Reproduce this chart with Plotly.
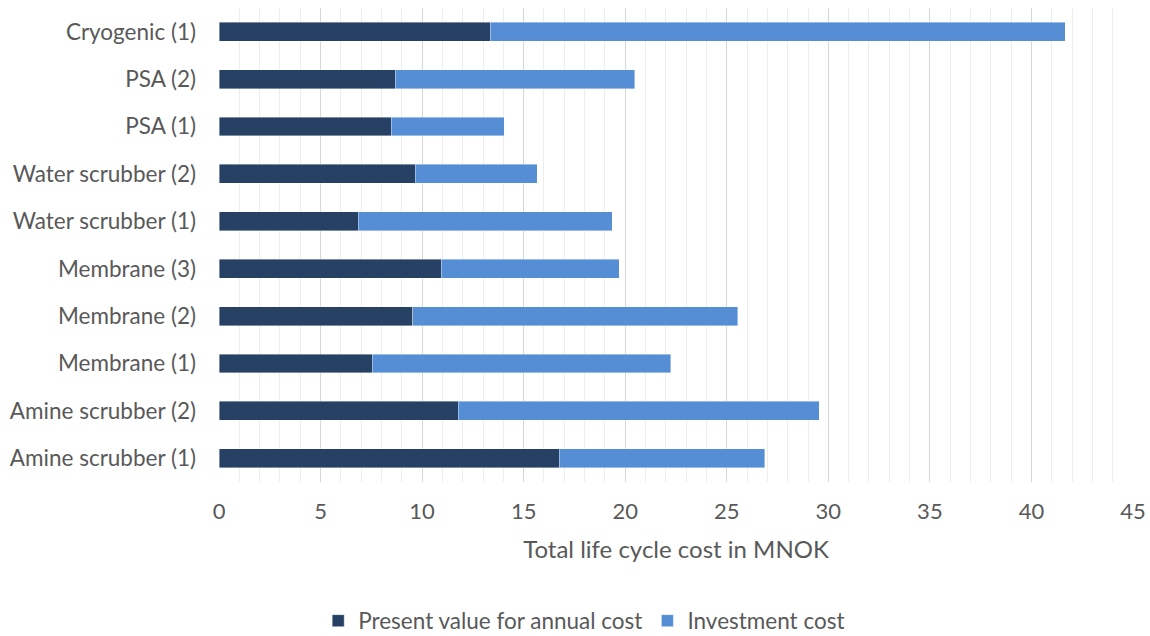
import plotly.graph_objects as go

# Upgrading technologies, bottom to top on the chart
technologies = [
    "Amine scrubber (1)",
    "Amine scrubber (2)",
    "Membrane (1)",
    "Membrane (2)",
    "Membrane (3)",
    "Water scrubber (1)",
    "Water scrubber (2)",
    "PSA (1)",
    "PSA (2)",
    "Cryogenic (1)",
]

# Cost components in MNOK
annual_cost_pv = [16.75, 11.77, 7.54, 9.54, 10.94, 6.85, 9.67, 8.47, 8.67, 13.35]
investment_cost = [10.11, 17.79, 14.71, 16.01, 8.76, 12.51, 6.00, 5.57, 11.79, 28.32]

x_ticks = [0, 5, 10, 15, 20, 25, 30, 35, 40, 45]

FONT = "Lato, Calibri, 'Open Sans', sans-serif"
TEXT = "#595959"

fig = go.Figure()
fig.add_trace(go.Bar(
    y=technologies, x=annual_cost_pv, orientation="h",
    name="Present value for annual cost",
    marker=dict(color="#264163", line=dict(color="rgba(255,255,255,0.5)", width=0.8)),
))
fig.add_trace(go.Bar(
    y=technologies, x=investment_cost, orientation="h",
    name="Investment cost",
    marker=dict(color="#558ED5", line=dict(color="rgba(255,255,255,0.5)", width=0.8)),
))

fig.update_layout(
    barmode="stack",
    bargap=0.6,
    width=1150, height=636,
    margin=dict(l=219, r=17, t=8, b=154, autoexpand=False),
    paper_bgcolor="white",
    plot_bgcolor="white",
    font=dict(family=FONT, size=22, color=TEXT),
    legend=dict(
        orientation="h",
        xref="container", yref="container",
        x=0.508, xanchor="center", y=1 - 621 / 636, yanchor="middle",
        font=dict(size=22.5, color=TEXT), traceorder="normal",
        itemwidth=30,
    ),
    showlegend=True,
)

fig.update_xaxes(
    range=[0, 45],
    automargin=False,
    tickvals=x_ticks,
    ticktext=[str(v) for v in x_ticks],
    showgrid=True, gridcolor="#D6D6D6", gridwidth=1.4,
    zeroline=False, showline=False,
    ticks="", ticklabelstandoff=14,
    tickfont=dict(size=22, color=TEXT),
    minor=dict(dtick=1, showgrid=True, gridcolor="#EDEDED", gridwidth=1.4),
    title=dict(text="Total life cycle cost in MNOK", font=dict(size=24, color=TEXT), standoff=18),
)

fig.update_yaxes(
    categoryorder="array", categoryarray=technologies,
    automargin=False,
    showgrid=False, zeroline=False, showline=False,
    ticks="", ticklabelstandoff=22,
    tickfont=dict(size=22.5, color=TEXT),
)

fig.write_html("out.html")
